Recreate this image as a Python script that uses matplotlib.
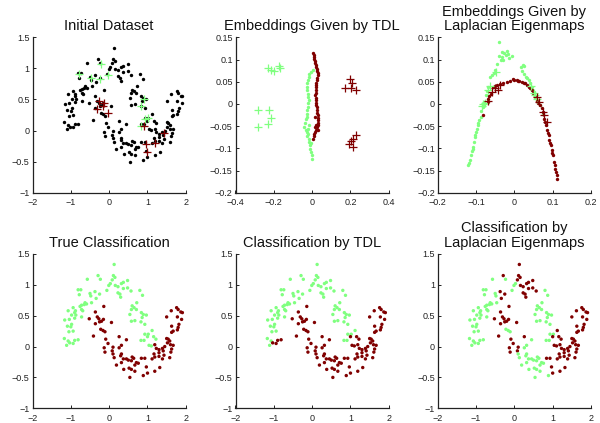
"""
Two-moons semi-supervised classification: TDL vs Laplacian Eigenmaps.
Static 2x3 figure with matplotlib, saved to out.png.
"""
import matplotlib
matplotlib.use("Agg")
import matplotlib.pyplot as plt
from matplotlib.ticker import FuncFormatter

plt.rcParams['font.family'] = ['Liberation Sans', 'DejaVu Sans']

GREEN = '#80ff80'
RED = '#800000'

# ---- two-moons dataset, grouped by arc segment ----
pts_x = [
    # A: upper moon, left arm
    -0.57, -0.23, 0.03, -0.01, -0.06, -0.81, -0.74, -0.78, -0.50, -0.48,
    -0.46, -0.63, -0.72, -0.76, -0.59, -0.65, -1.07, -0.94, -0.88, -0.90,
    -0.72, -0.69, -0.87, -0.98, -1.04, -1.16, -0.90, -0.72, -1.09, -1.00,
    -0.94, -1.05, -0.98, -1.17, -1.07, -1.03, -1.11, -0.94, -0.90, -0.81,
    # B: upper moon, top
    0.13, -0.29, 0.11, 0.15, 0.08, 0.48, 0.37, 0.32, 0.16, 0.23,
    0.37, 0.48, 0.57, 0.23, 0.28, 0.30, -0.37, -0.25, -0.34,
    # C: upper moon, right side
    0.80, 0.87, 0.72, 0.65, 0.58, 0.71, 0.84, 0.89, 0.97, 0.86,
    0.67, 0.58, 0.83, 0.93, 0.54, 0.60, 0.93, 1.02, 0.91, 0.83,
    # C2: upper moon, right tip
    1.12, 1.00, 1.16, 1.22, 1.04, 1.10,
    # D: lower moon, left tip
    -0.14, -0.36, -0.31, -0.27, -0.15, -0.20, 0.06, -0.36, -0.25, -0.41,
    0.26, -0.09, -0.03, -0.13, 0.10, -0.11, 0.08, -0.52,
    # E: lower moon, bottom
    -0.16, -0.11, -0.22, 0.45, 0.32, 0.26, 0.32, 0.10, 0.13, 0.19,
    0.32, 0.38, 0.52, 0.58, 0.64, 0.67, 0.50, 0.45, 0.58, 0.67,
    0.71, 0.76, 0.54, 0.89, 0.60, 0.30, 0.37,
    # F: lower moon, right side
    1.19, 1.23, 1.30, 1.30, 1.17, 1.19, 1.12, 1.39, 1.45, 1.41,
    1.43, 1.39, 1.30, 1.50, 1.54, 1.58, 1.52, 1.60, 1.63, 1.61,
    1.67, 1.58, 1.50, 1.62, 1.63, 1.67, 1.63, 1.76, 1.80, 1.87,
    1.91, 1.78, 1.89, 1.82, 1.80, 1.78, 0.84, 0.97, 1.00, 1.19,
    1.32, 0.93,
]
pts_y = [
    1.09, 1.09, 1.02, 0.99, 0.91, 0.92, 0.92, 0.84, 0.86, 0.82,
    0.71, 0.71, 0.67, 0.65, 0.69, 0.68, 0.58, 0.63, 0.58, 0.55,
    0.60, 0.58, 0.51, 0.51, 0.44, 0.43, 0.46, 0.48, 0.33, 0.32,
    0.25, 0.24, 0.36, 0.13, 0.09, 0.06, 0.02, 0.05, 0.10, 0.11,
    1.33, 1.15, 1.15, 1.12, 1.08, 1.07, 1.04, 1.02, 0.99, 0.97,
    0.94, 0.95, 0.90, 0.87, 0.85, 0.80, 0.89, 0.85, 0.78,
    0.91, 0.83, 0.71, 0.63, 0.60, 0.60, 0.55, 0.52, 0.51, 0.47,
    0.42, 0.41, 0.40, 0.36, 0.52, 0.66, 0.20, 0.20, 0.10, 0.10,
    0.26, 0.16, 0.16, 0.12, 0.02, 0.01,
    0.65, 0.56, 0.48, 0.45, 0.44, 0.41, 0.39, 0.37, 0.40, 0.17,
    0.16, 0.12, 0.05, -0.02, -0.01, -0.09, -0.07, 0.45,
    0.26, 0.24, 0.28, 0.11, 0.02, -0.02, -0.12, -0.12, -0.18, -0.30,
    -0.26, -0.37, -0.35, -0.23, -0.19, -0.30, -0.22, -0.20, -0.37, -0.40,
    -0.26, -0.27, -0.50, -0.47, -0.17, -0.15, -0.20,
    0.03, -0.03, -0.05, -0.10, -0.12, -0.17, -0.20, -0.03, 0.00, -0.07,
    -0.14, -0.20, -0.16, 0.13, 0.12, 0.09, 0.06, 0.03, -0.04, -0.09,
    0.02, -0.18, 0.48, 0.58, 0.33, 0.25, 0.23, 0.63, 0.60, 0.56,
    0.55, 0.48, 0.44, 0.36, 0.31, 0.27, -0.19, -0.33, -0.43, -0.40,
    -0.34, -0.19,
]

# class labels per point (g = green class, r = red class), same order as above
true_lbl = "".join([
    "gggggggggg" "gggggggggg" "gggggggggg" "gggggggggg",  # A
    "gggggggggg" "ggggggggg",                              # B
    "gggggggggg" "gggggggggg",                              # C
    "gggggg",                                              # C2
    "rrrrrrrrrr" "rrrrrrrr",                                # D
    "rrrrrrrrrr" "rrrrrrrrrr" "rrrrrrr",                    # E
    "rrrrrrrrrr" "rrrrrrrrrr" "rrrrrrrrrr" "rrrrrrrrrr" "rr",  # F
])
tdl_lbl = "".join([
    "gggggggggg" "gggggggggg" "gggggggggg" "gggggrgrrr",
    "gggggggggg" "ggggggggg",
    "gggggggggg" "gggggggggg",
    "grrrrr",
    "rrrrrrrrrr" "rrrrrrrr",
    "rrrrrrrrrr" "rrrrrrrrrr" "rrrrrrr",
    "rrrrrrrrrr" "rrrrrrrrrr" "rrrrrrrrrr" "rrrrrrrrrr" "rr",
])
le_lbl = "".join([
    "gggggggggg" "gggggggggg" "gggggggggg" "gggggggggg",
    "rrrrrrrrrr" "rrrrrrrrr",
    "gggggggggg" "gggggggggg",
    "rrrrrr",
    "rrrrrrrrrr" "rrrrrrrr",
    "gggggggggg" "gggggggggg" "ggggggg",
    "rrrrrrrrrr" "rrrrrrrrrr" "rrrrrrrrrr" "rrrrrrrrrr" "rr",
])

# labelled points (crosses) in the initial dataset
lab_g_x = [-0.80, -0.47, -0.22, -0.23, -0.04, 0.92, 0.84, 0.94, 1.01, 0.84]
lab_g_y = [0.91, 0.85, 1.07, 0.83, 0.90, 0.51, 0.40, 0.19, 0.20, 0.08]
lab_r_x = [-0.26, -0.13, -0.15, -0.33, -0.02, 0.92, 1.42, 0.97, 1.20, 0.98]
lab_r_y = [0.47, 0.44, 0.40, 0.35, 0.28, 0.08, -0.04, -0.21, -0.20, -0.34]

# ---- TDL embedding ----
tdl_r_x = [0.007, 0.009, 0.010, 0.012, 0.014, 0.017, 0.019, 0.021, 0.024, 0.026,
           0.029, 0.028, 0.026, 0.024, 0.022, 0.021, 0.019, 0.021, 0.019, 0.017,
           0.019, 0.021, 0.021, 0.022, 0.024, 0.026, 0.024, 0.028, 0.029, 0.029,
           0.028, 0.029, 0.024, 0.021, 0.017, 0.012, 0.009, 0.003, 0.017, 0.033,
           0.015, 0.022]
tdl_r_y = [0.115, 0.110, 0.106, 0.101, 0.097, 0.092, 0.088, 0.083, 0.079, 0.074,
           0.070, 0.065, 0.059, 0.053, 0.048, 0.042, 0.037, 0.031, 0.025, 0.020,
           0.014, 0.008, 0.002, -0.003, -0.008, -0.014, -0.020, -0.026, -0.031, -0.037,
           -0.043, -0.048, -0.053, -0.058, -0.063, -0.068, -0.073, -0.078, -0.052, -0.059,
           -0.029, -0.047]
tdl_g_x = [0.003, -0.005, -0.014, -0.019, -0.022, -0.026, -0.028, -0.026, -0.022, -0.021,
           -0.019, -0.022, -0.024, -0.026, -0.026, -0.029, -0.031, -0.036, -0.040, -0.033,
           -0.026, -0.022, -0.029, -0.019, -0.014, -0.012, -0.009, -0.005, -0.002, 0.000,
           -0.015, -0.022, -0.005]
tdl_g_y = [0.076, 0.072, 0.068, 0.061, 0.053, 0.046, 0.038, 0.031, 0.023, 0.016,
           0.008, 0.001, -0.007, -0.014, -0.022, -0.029, -0.035, -0.043, -0.052, -0.059,
           -0.063, -0.067, -0.073, -0.078, -0.086, -0.093, -0.101, -0.108, -0.116, -0.123,
           -0.048, -0.056, -0.089]
tdl_lab_g_x = [-0.23, -0.215, -0.20, -0.175, -0.17, -0.28, -0.225, -0.215, -0.23, -0.28]
tdl_lab_g_y = [0.080, 0.076, 0.074, 0.085, 0.080, -0.013, -0.013, -0.031, -0.046, -0.053]
tdl_lab_r_x = [0.20, 0.21, 0.17, 0.205, 0.23, 0.23, 0.215, 0.205, 0.19, 0.215]
tdl_lab_r_y = [0.057, 0.046, 0.036, 0.035, 0.031, -0.071, -0.080, -0.083, -0.091, -0.097]

# ---- Laplacian Eigenmaps embedding ----
le_g_x = [-0.120, -0.116, -0.113, -0.111, -0.107, -0.105, -0.103, -0.100, -0.098, -0.096,
          -0.091, -0.088, -0.083, -0.079, -0.074, -0.068, -0.063, -0.059, -0.050, -0.044,
          -0.039, -0.041, -0.033, -0.029, -0.027, -0.022, -0.018, -0.016, -0.007, 0.017,
          0.022, 0.025, 0.026, 0.030, 0.037, 0.041, 0.045, 0.050, 0.054, 0.058,
          0.067, 0.074, -0.118, -0.109, -0.102, -0.094, -0.086, -0.081, -0.071, -0.054,
          -0.036, -0.031, -0.013, 0.020, 0.033, 0.047]
le_g_y = [-0.137, -0.127, -0.116, -0.106, -0.097, -0.086, -0.074, -0.063, -0.056, -0.048,
          -0.037, -0.029, -0.003, 0.005, 0.020, 0.038, 0.061, 0.065, 0.076, 0.091,
          0.107, 0.140, 0.106, 0.100, 0.115, 0.110, 0.119, 0.113, 0.107, 0.083,
          0.087, 0.085, 0.068, 0.061, 0.053, 0.046, 0.037, 0.027, 0.016, 0.008,
          -0.003, -0.022, -0.132, -0.101, -0.069, -0.043, -0.015, -0.008, 0.030, 0.070,
          0.100, 0.118, 0.104, 0.075, 0.058, 0.032]
le_r_x = [-0.083, -0.070, -0.068, -0.062, -0.055, -0.046, -0.037, -0.029, -0.020, -0.011,
          -0.003, 0.006, 0.013, 0.019, 0.028, 0.037, 0.045, 0.054, 0.060, 0.067,
          0.074, 0.078, 0.083, 0.086, 0.090, 0.091, 0.095, 0.097, 0.100, 0.103,
          0.106, 0.109, 0.112, -0.065, -0.050, 0.000, 0.010, 0.024, 0.032, 0.041,
          0.049, 0.063, 0.071, 0.080, 0.088, 0.093, 0.099, 0.105, 0.111]
le_r_y = [-0.026, 0.005, 0.012, 0.023, 0.038, 0.042, 0.044, 0.046, 0.050, 0.052,
          0.055, 0.053, 0.052, 0.050, 0.046, 0.038, 0.031, 0.017, 0.007, -0.003,
          -0.018, -0.033, -0.048, -0.059, -0.071, -0.082, -0.093, -0.104, -0.116, -0.131,
          -0.146, -0.153, -0.170, 0.018, 0.040, 0.054, 0.052, 0.048, 0.043, 0.035,
          0.024, 0.002, -0.010, -0.040, -0.065, -0.088, -0.110, -0.138, -0.160]
le_lab_g_x = [-0.048, -0.063, -0.070, -0.083, -0.077, 0.050, 0.058, 0.054, 0.044, -0.085]
le_lab_g_y = [0.072, 0.040, 0.031, -0.001, 0.002, 0.025, 0.012, 0.020, 0.040, -0.005]
le_lab_r_x = [-0.068, -0.059, -0.050, -0.042, -0.037, 0.058, 0.065, 0.074, 0.077, 0.084]
le_lab_r_y = [0.007, 0.027, 0.035, 0.032, 0.042, 0.016, 0.005, -0.018, -0.026, -0.041]

DATA_XTICKS = [-2, -1, 0, 1, 2]
DATA_YTICKS = [-1, -0.5, 0, 0.5, 1, 1.5]
EMB_YTICKS = [-0.2, -0.15, -0.1, -0.05, 0, 0.05, 0.1, 0.15]


def fmt(v, _pos=None):
    s = "%g" % round(v, 4)
    return s.replace("-", "\u2212")


def setup(ax, xlim, ylim, xticks, yticks, title):
    ax.set_xlim(xlim)
    ax.set_ylim(ylim)
    ax.set_xticks(xticks)
    ax.set_yticks(yticks)
    ax.xaxis.set_major_formatter(FuncFormatter(fmt))
    ax.yaxis.set_major_formatter(FuncFormatter(fmt))
    for side in ("top", "right"):
        ax.spines[side].set_visible(False)
    for side in ("left", "bottom"):
        ax.spines[side].set_linewidth(0.9)
        ax.spines[side].set_color("#222222")
    ax.tick_params(direction="in", length=2.5, width=0.7, labelsize=6.5,
                   colors="#222222")
    ax.tick_params(axis="y", pad=2)
    ax.tick_params(axis="x", pad=4)
    ax.set_title(title, fontsize=10.5, pad=5, color="#111111", linespacing=1.05)


def dots(ax, xs, ys, colors):
    ax.scatter(xs, ys, s=6, c=colors, marker="o", linewidths=0)


def crosses(ax, xs, ys, color):
    ax.plot(xs, ys, linestyle="none", marker="+", markersize=6,
            markeredgewidth=0.9, color=color)


def colours(lbl):
    return [GREEN if c == "g" else RED for c in lbl]


assert len(pts_x) == len(pts_y) == len(true_lbl) == len(tdl_lbl) == len(le_lbl)

fig = plt.figure(figsize=(6, 4.23), dpi=100)
lefts = [0.0542, 0.3925, 0.7295]
width = 0.2555
top_b, top_h = 0.5444, 0.3674
bot_b, bot_h = 0.0348, 0.3648

# top row
ax1 = fig.add_axes([lefts[0], top_b, width, top_h])
setup(ax1, (-2, 2), (-1, 1.5), DATA_XTICKS, DATA_YTICKS, "Initial Dataset")
dots(ax1, pts_x, pts_y, "black")
crosses(ax1, lab_g_x, lab_g_y, GREEN)
crosses(ax1, lab_r_x, lab_r_y, RED)

ax2 = fig.add_axes([lefts[1], top_b, width, top_h])
setup(ax2, (-0.4, 0.4), (-0.2, 0.15), [-0.4, -0.2, 0, 0.2, 0.4], EMB_YTICKS,
      "Embeddings Given by TDL")
dots(ax2, tdl_g_x, tdl_g_y, GREEN)
dots(ax2, tdl_r_x, tdl_r_y, RED)
crosses(ax2, tdl_lab_g_x, tdl_lab_g_y, GREEN)
crosses(ax2, tdl_lab_r_x, tdl_lab_r_y, RED)

ax3 = fig.add_axes([lefts[2], top_b, width, top_h])
setup(ax3, (-0.2, 0.2), (-0.2, 0.15), [-0.2, -0.1, 0, 0.1, 0.2], EMB_YTICKS,
      "Embeddings Given by\nLaplacian Eigenmaps")
dots(ax3, le_g_x, le_g_y, GREEN)
dots(ax3, le_r_x, le_r_y, RED)
crosses(ax3, le_lab_g_x, le_lab_g_y, GREEN)
crosses(ax3, le_lab_r_x, le_lab_r_y, RED)

# bottom row
ax4 = fig.add_axes([lefts[0], bot_b, width, bot_h])
setup(ax4, (-2, 2), (-1, 1.5), DATA_XTICKS, DATA_YTICKS, "True Classification")
dots(ax4, pts_x, pts_y, colours(true_lbl))

ax5 = fig.add_axes([lefts[1], bot_b, width, bot_h])
setup(ax5, (-2, 2), (-1, 1.5), DATA_XTICKS, DATA_YTICKS, "Classification by TDL")
dots(ax5, pts_x, pts_y, colours(tdl_lbl))

ax6 = fig.add_axes([lefts[2], bot_b, width, bot_h])
setup(ax6, (-2, 2), (-1, 1.5), DATA_XTICKS, DATA_YTICKS,
      "Classification by\nLaplacian Eigenmaps")
dots(ax6, pts_x, pts_y, colours(le_lbl))

fig.savefig("out.png", dpi=100)
